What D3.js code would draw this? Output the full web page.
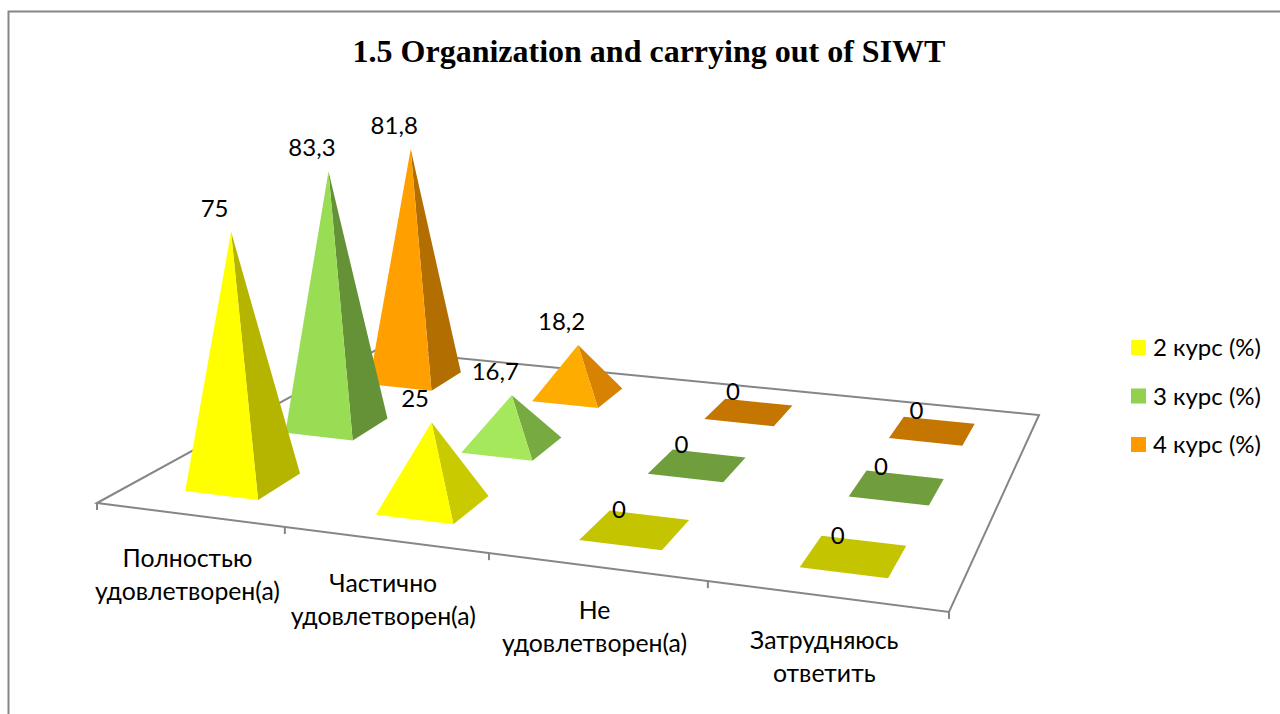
<!DOCTYPE html>
<meta charset="utf-8">
<style>
  html, body { margin: 0; background: #fff; }
  svg { display: block; }
  text { fill: #000; font-family: Lato, sans-serif; }
</style>
<body>
<script src="https://cdn.jsdelivr.net/npm/d3@7"></script>
<script>
var width = 1280,
    height = 714;

var title = "1.5 Organization and carrying out of SIWT";
var categories = [["Полностью", "удовлетворен(а)"], ["Частично", "удовлетворен(а)"], ["Не", "удовлетворен(а)"], ["Затрудняюсь", "ответить"]];
var seriesNames = ["2 курс (%)", "3 курс (%)", "4 курс (%)"];
var course2 = [75, 25, 0, 0];
var course3 = [83.3, 16.7, 0, 0];
var course4 = [81.8, 18.2, 0, 0];
var seriesValues = [course2, course3, course4];

var legendColors = ["#ffff00", "#92d050", "#ff9900"];
// face colours change with the slope of the pyramid
var frontColors = [["#ffff00", "#ffff00"], ["#a6e85c", "#99dd55"], ["#ffad00", "#ffa000"]];
var sideColors = [["#c4c400", "#cccc00", "#b3b300"], ["#709e3c", "#78ad42", "#669338"], ["#c47600", "#d98300", "#b36f00"]];

// floor of the 3d plot on screen
var floor = { fl: [97, 503], fr: [949, 612], br: [1039, 415], bl: [376, 350] };
var xVanish = 540, vanishDist = 6000;
var halfU = 0.0485, halfV = 0.07;

var u = d3.scaleLinear().domain([0, 1, 2, 3, 4]).range([0, 0.244, 0.493, 0.743, 1]);
// pyramid centres along the category axis
var uMark = d3.scaleLinear().domain([0, 1, 2, 3]).range([0.122, 0.371, 0.6205, 0.874]);
var v = d3.scaleLinear().domain([0, seriesNames.length]).range([0, 1]);
// height on screen, slightly curved because of the perspective
var heightScale = d3.scalePow().exponent(1.033).domain([0, 100]).range([0, 337]);
var frontScale = d3.scaleLinear().domain([15, 80]);
var sideScale = d3.scaleLinear().domain([0, 20, 80]);

// unit square -> floor quad
var project = (function() {
  var x0 = floor.fl[0], y0 = floor.fl[1], x1 = floor.fr[0], y1 = floor.fr[1],
      x2 = floor.br[0], y2 = floor.br[1], x3 = floor.bl[0], y3 = floor.bl[1];
  var dx1 = x1 - x2, dx2 = x3 - x2, sx = x0 - x1 + x2 - x3,
      dy1 = y1 - y2, dy2 = y3 - y2, sy = y0 - y1 + y2 - y3;
  var den = dx1 * dy2 - dx2 * dy1,
      g = (sx * dy2 - dx2 * sy) / den,
      h = (dx1 * sy - sx * dy1) / den,
      a = x1 - x0 + g * x1, b = x3 - x0 + h * x3,
      d = y1 - y0 + g * y1, e = y3 - y0 + h * y3;
  return function(s, t) {
    var w = g * s + h * t + 1;
    return { x: (a * s + b * t + x0) / w, y: (d * s + e * t + y0) / w, w: w };
  };
})();

var w0 = project(u(0.5), v(0.5)).w;

function apex(s, t, value) {
  var p = project(s, t),
      h = heightScale(value) * w0 / p.w;
  return { x: p.x + (p.x - xVanish) * h / vanishDist, y: p.y - h };
}

function poly(points) {
  return d3.line().x(function(d) { return d.x; }).y(function(d) { return d.y; })(points) + "Z";
}

var svg = d3.select("body").append("svg")
    .attr("width", width)
    .attr("height", height);

// chart frame
svg.append("path")
    .attr("d", "M8.5," + height + "V11.5H" + width)
    .attr("fill", "none")
    .attr("stroke", "#868686")
    .attr("stroke-width", 2);

svg.append("text")
    .attr("x", 649)
    .attr("y", 62)
    .attr("text-anchor", "middle")
    .style("font-family", "'Liberation Serif', serif")
    .style("font-weight", "bold")
    .style("font-size", "32px")
    .text(title);

// floor
var corners = [project(0, 0), project(1, 0), project(1, 1), project(0, 1)];
svg.append("path")
    .attr("d", poly(corners))
    .attr("fill", "#fff")
    .attr("stroke", "#868686")
    .attr("stroke-width", 2);

// ticks and category labels
svg.selectAll(".tick")
    .data(d3.range(categories.length + 1))
  .enter().append("line")
    .attr("class", "tick")
    .attr("x1", function(d) { return project(u(d), 0).x; })
    .attr("x2", function(d) { return project(u(d), 0).x; })
    .attr("y1", function(d) { return project(u(d), 0).y; })
    .attr("y2", function(d) { return project(u(d), 0).y + 7; })
    .attr("stroke", "#868686")
    .attr("stroke-width", 2);

var catLabel = svg.selectAll(".cat")
    .data(categories)
  .enter().append("text")
    .attr("class", "cat")
    .attr("text-anchor", "middle")
    .style("font-size", "24.8px")
    .attr("transform", function(d, i) {
      var p = project(u(i + 0.5), 0);
      return "translate(" + (p.x - 2) + "," + (p.y + 52.5) + ")";
    });

catLabel.selectAll("tspan")
    .data(function(d) { return d; })
  .enter().append("tspan")
    .attr("x", 0)
    .attr("y", function(d, i) { return i * 33; })
    .text(function(d) { return d; });

// pyramids, back row first
var marks = [];
d3.range(seriesNames.length).reverse().forEach(function(si) {
  categories.forEach(function(c, ci) {
    marks.push({ series: si, cat: ci, value: seriesValues[si][ci] });
  });
});

marks.forEach(function(d) {
  var s = uMark(d.cat), t = v(d.series + 0.5),
      fl = project(s - halfU, t - halfV), fr = project(s + halfU, t - halfV),
      br = project(s + halfU, t + halfV), bl = project(s - halfU, t + halfV),
      top = apex(s, t, d.value),
      side = sideScale.range(sideColors[d.series])(d.value),
      front = frontScale.range(frontColors[d.series]).clamp(true)(d.value);
  if (d.value === 0) {
    svg.append("path").attr("d", poly([fl, fr, br, bl])).attr("fill", side);
    d.labelX = top.x - 16;
    d.labelY = top.y - 20.5;
  } else {
    svg.append("path").attr("d", poly([fr, br, top])).attr("fill", side);
    svg.append("path").attr("d", poly([fl, fr, top])).attr("fill", front);
    d.labelX = top.x - 16.5;
    d.labelY = top.y - 23.5;
  }
});

// data labels on top of everything
svg.selectAll(".value")
    .data(marks)
  .enter().append("text")
    .attr("class", "value")
    .attr("x", function(d) { return d.labelX; })
    .attr("y", function(d) { return d.labelY; })
    .attr("dy", "0.35em")
    .attr("text-anchor", "middle")
    .style("font-size", "24px")
    .text(function(d) { return String(d.value).replace(".", ","); });

// legend
var legend = svg.selectAll(".legend")
    .data(seriesNames)
  .enter().append("g")
    .attr("class", "legend")
    .attr("transform", function(d, i) { return "translate(1131," + (340 + i * 48.5) + ")"; });

legend.append("rect")
    .attr("width", 15)
    .attr("height", 15)
    .attr("fill", function(d, i) { return legendColors[i]; });

legend.append("text")
    .attr("x", 22)
    .attr("y", 8)
    .attr("dy", "0.35em")
    .style("font-size", "24px")
    .text(function(d) { return d; });
</script>
</body>
